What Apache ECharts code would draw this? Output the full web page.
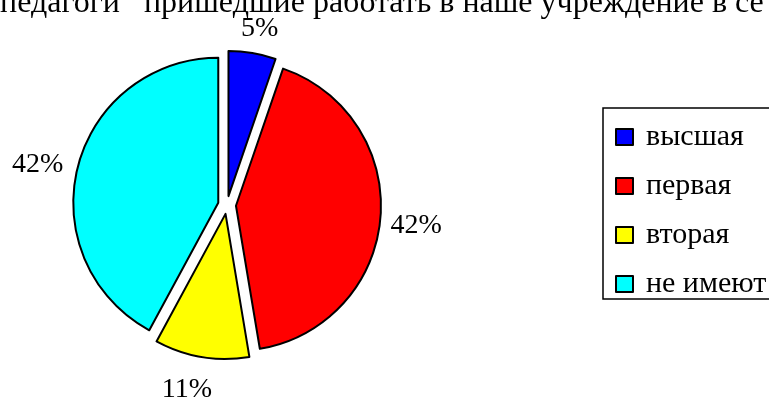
<!DOCTYPE html>
<html>
<head>
<meta charset="utf-8">
<script src="https://cdn.jsdelivr.net/npm/echarts@6/dist/echarts.min.js"></script>
<style>
  html, body { margin: 0; padding: 0; background: #fff; }
  #chart { width: 769px; height: 403px; }
</style>
</head>
<body>
<div id="chart"></div>
<script>
// данные диаграммы
var titleText = 'педагоги   пришедшие работать в наше учреждение в се';
var categories = ['высшая', 'первая', 'вторая', 'не имеют'];
var values = [1, 8, 2, 8];
var colors = ['#0000ff', '#ff0000', '#ffff00', '#00ffff'];

// подвинуть подписи как в исходной картинке
var labelShift = [[-20, -3], [-17, 6], [19, 11], [12, 3]];

var FONT = '"Liberation Serif", "Times New Roman", serif';

function showChart(id) {
    var seriesData = categories.map(function (name, i) {
        return {
            name: name,
            value: values[i],
            selected: true,
            itemStyle: { color: colors[i] }
        };
    });

    var option = {
        animation: false,
        title: {
            text: titleText,
            left: 0,
            top: -12,
            padding: 0,
            textStyle: {
                fontFamily: FONT,
                fontSize: 32,
                fontWeight: 'normal',
                color: '#000'
            }
        },
        legend: {
            orient: 'vertical',
            left: 603,
            top: 108,
            padding: [14, 30, 0, 12],
            itemGap: 19,
            itemWidth: 17,
            itemHeight: 16,
            borderColor: '#000',
            borderWidth: 1.5,
            selectedMode: false,
            icon: 'rect',
            data: categories,
            textStyle: {
                fontFamily: FONT,
                fontSize: 30,
                lineHeight: 30,
                color: '#000',
                padding: [0, 0, 0, 8]
            }
        },
        series: [
            {
                type: 'pie',
                center: [227, 205],
                radius: 145,
                startAngle: 90,
                clockwise: true,
                selectedMode: 'multiple',
                selectedOffset: 9,
                avoidLabelOverlap: false,
                emphasis: { disabled: true },
                itemStyle: {
                    borderColor: '#000',
                    borderWidth: 2
                },
                label: {
                    show: true,
                    position: 'outside',
                    fontFamily: FONT,
                    fontSize: 28,
                    color: '#000',
                    distanceToLabelLine: 5,
                    // округление процентов до целых
                    formatter: function (p) {
                        return Math.round(p.percent) + '%';
                    }
                },
                labelLine: { show: false, length: 22, length2: 0 },
                labelLayout: function (p) {
                    return { dx: labelShift[p.dataIndex][0], dy: labelShift[p.dataIndex][1] };
                },
                data: seriesData
            }
        ]
    };

    var chart = echarts.init(document.getElementById(id));
    chart.setOption(option);
}

showChart('chart');
</script>
</body>
</html>
